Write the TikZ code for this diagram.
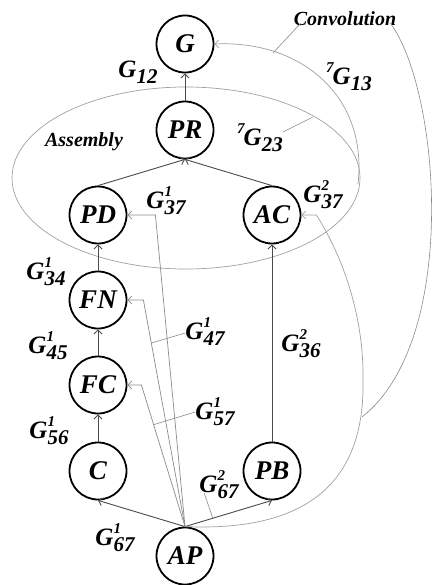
\documentclass[tikz,border=0pt]{standalone}
\usepackage{fontspec}
\setmainfont{Liberation Serif}
\usetikzlibrary{arrows.meta,calc}
\definecolor{EdgeInk}{HTML}{4A4A4A}
\definecolor{LinkGray}{HTML}{8A8A8A}
\definecolor{BowGray}{HTML}{A0A0A0}
\newcommand{\supd}[1]{\raisebox{12pt}{\fontsize{15}{15}\selectfont#1}}
\newcommand{\subd}[1]{\raisebox{-6pt}{\fontsize{21}{21}\selectfont#1}}
\newcommand{\gsym}[2]{G\rlap{\supd{#1}}\subd{#2}}
\newcommand{\pgsym}[1]{\supd{7}\kern-1pt G\subd{#1}}

\begin{document}
\begin{tikzpicture}[x=1pt,y=1pt,unit/.style={draw,circle,fill=white,line width=1.8pt,minimum size=57pt,inner sep=0pt,font=\fontsize{27}{29}\selectfont\bfseries\itshape},lbl/.style={inner sep=0pt,font=\fontsize{25}{27}\selectfont\bfseries\itshape},tag/.style={inner sep=0pt,font=\fontsize{20}{22}\selectfont\bfseries\itshape},tie/.style={-{Straight Barb[length=4pt,width=8pt]},line width=0.9pt,draw=EdgeInk},link/.style={-{Straight Barb[length=4pt,width=8pt]},line width=0.7pt,draw=LinkGray},bow/.style={line width=0.7pt,draw=BowGray},leader/.style={line width=0.6pt,draw=LinkGray}]
\useasboundingbox (0,0) rectangle (438,-585);

\draw[bow] (186,-178) ellipse (174 and 91);
\node[tag] (conv) at (345,-19) {Convolution}; \node[tag] (asm) at (84,-142) {Assembly};

\node[unit] (g) at (185,-44) {G}; \node[unit] (pr) at (185,-130) {PR};
\node[unit] (pd) at (98,-215) {PD}; \node[unit] (ac) at (272,-215) {AC};
\node[unit] (fn) at (98,-300) {FN}; \node[unit] (fc) at (98,-385) {FC};
\node[unit] (c) at (98,-471) {C}; \node[unit] (pb) at (272,-471) {PB};
\node[unit] (ap) at (185,-556) {AP};

\draw[tie] (pr) -- (g); \draw[tie] (pd.north) -- (pr.south); \draw[tie] (ac.north) -- (pr.south);
\draw[tie] (fn) -- (pd); \draw[tie] (fc) -- (fn); \draw[tie] (c) -- (fc); \draw[tie] (pb) -- (ac);
\draw[tie] (ap.north) -- (c.south); \draw[tie] (ap.north) -- (pb.south);

\coordinate (fnk) at ([xshift=16pt]fn.east); \coordinate (fck) at ([xshift=14pt]fc.east);
\coordinate (pdk) at ([xshift=28pt]pd.east); \coordinate (ack) at ([xshift=15pt]ac.east);
\draw[link] (ap.north) -- (fnk) -- (fn.east); \draw[link] (ap.north) -- (fck) -- (fc.east); \draw[link] (ap.north) -- (pdk) -- (pd.east);
\draw[link,draw=BowGray] (ap.north) .. controls (310,-532) and (365,-480) .. (363,-380) .. controls (364,-320) and (345,-260) .. (ack) -- (ac.east);
\coordinate (rim) at (358,-184); \draw[link,draw=BowGray] (rim) .. controls (368,-95) and (300,-40) .. (g.east);

\node[lbl] (l12) at (138,-72) {\gsym{}{12}}; \node[lbl] (l13) at (349,-77) {\pgsym{13}}; \node[lbl] (l23) at (260,-138) {\pgsym{23}};
\node[lbl] (l37a) at (166,-201) {\gsym{1}{37}}; \node[lbl] (l37b) at (323,-195) {\gsym{2}{37}};
\node[lbl] (l34) at (46,-272) {\gsym{1}{34}}; \node[lbl] (l45) at (48,-346) {\gsym{1}{45}}; \node[lbl] (l56) at (49,-431) {\gsym{1}{56}};
\node[lbl] (l47) at (205,-332) {\gsym{1}{47}}; \node[lbl] (l57) at (215,-412) {\gsym{1}{57}};
\node[lbl] (l36) at (301,-344) {\gsym{2}{36}}; \node[lbl] (l67b) at (219,-485) {\gsym{2}{67}}; \node[lbl] (l67a) at (115,-538) {\gsym{1}{67}};

\coordinate (gbow) at (273,-53); \coordinate (sweep) at (362,-417); \coordinate (rimtop) at (313,-117);
\draw[leader] ([xshift=7pt,yshift=3pt]conv.south west) -- (gbow);
\draw[leader] ([xshift=-6pt,yshift=3pt]conv.south east) .. controls (440,-90) and (460,-340) .. (sweep);
\draw[leader] ([yshift=6pt]l23.east) -- (rimtop);
\draw[leader] ([yshift=-1pt]l47.west) -- ($(ap.north)!0.81!(fnk)$);
\draw[leader] ([yshift=0pt]l57.west) -- ($(ap.north)!0.72!(fck)$);
\draw[leader] ([xshift=5pt,yshift=6pt]l67b.south west) -- ($(ap.north)!0.32!(pb.south)$);

\end{tikzpicture}
\end{document}
